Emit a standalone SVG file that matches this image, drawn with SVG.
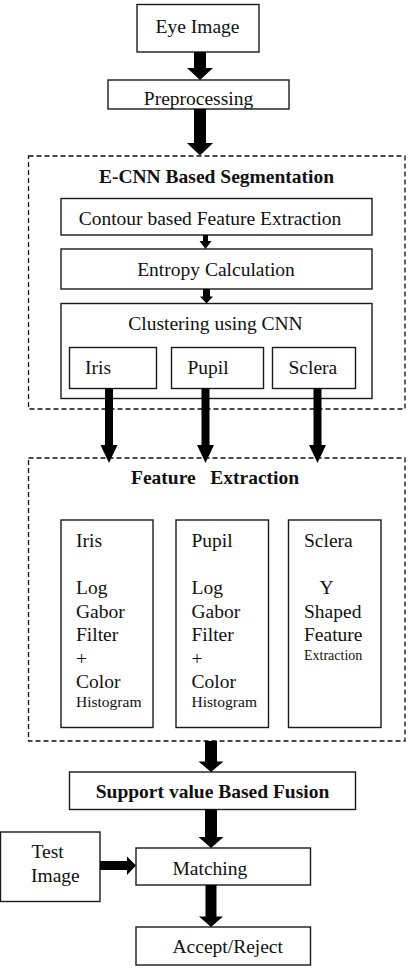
<svg xmlns="http://www.w3.org/2000/svg" width="409" height="974" viewBox="0 0 409 974" font-family="'Liberation Serif', 'DejaVu Serif', serif">
  <style>
    .box { fill: #ffffff; stroke: #1a1a1a; stroke-width: 1.4; }
    .dash { fill: none; stroke: #111111; stroke-width: 1.3; stroke-dasharray: 5 3; }
    text { font-family: 'Liberation Serif', 'DejaVu Serif', serif; fill: #111111; }
    .t { font-size: 19.5px; }
    .tb { font-size: 19.5px; font-weight: bold; }
    .s { font-size: 15.5px; }
    .xs { font-size: 14px; }
    .c { text-anchor: middle; }
    .arr { fill: #000000; }
  </style>
  <rect width="409" height="974" fill="#ffffff"/>

  <!-- top of pipeline -->
  <g id="eye-image">
    <rect class="box" x="137" y="4.5" width="122" height="47.5"/>
    <text class="t c" x="197.5" y="33">Eye Image</text>
  </g>
  <g id="preprocessing">
    <rect class="box" x="108" y="80" width="181" height="29"/>
    <text class="t c" x="198.5" y="104.5">Preprocessing</text>
  </g>

  <!-- segmentation stage -->
  <g id="ecnn-segmentation">
    <rect class="dash" x="28.5" y="156" width="376.5" height="253"/>
    <text class="tb c" x="216.5" y="183">E-CNN Based Segmentation</text>
  </g>
  <g id="contour-extraction">
    <rect class="box" x="61" y="198.5" width="311" height="36.5"/>
    <text class="t c" x="210" y="225">Contour based Feature Extraction</text>
  </g>
  <g id="entropy">
    <rect class="box" x="61" y="249" width="311" height="40"/>
    <text class="t c" x="216" y="276">Entropy Calculation</text>
  </g>
  <g id="clustering">
    <rect class="box" x="61" y="303.5" width="311" height="95"/>
    <text class="t c" x="215.5" y="330">Clustering using CNN</text>
  </g>
  <g id="seg-iris">
    <rect class="box" x="69.5" y="347.5" width="87" height="41"/>
    <text class="t" x="85" y="374">Iris</text>
  </g>
  <g id="seg-pupil">
    <rect class="box" x="171.5" y="347.5" width="92" height="41"/>
    <text class="t" x="187.5" y="374">Pupil</text>
  </g>
  <g id="seg-sclera">
    <rect class="box" x="272.5" y="347.5" width="83" height="41"/>
    <text class="t" x="288.5" y="374">Sclera</text>
  </g>

  <!-- feature extraction stage -->
  <g id="feature-extraction">
    <rect class="dash" x="28.5" y="458" width="376.5" height="283"/>
    <text class="tb" x="131" y="483.5" xml:space="preserve">Feature   Extraction</text>
  </g>
  <g id="feat-iris">
    <rect class="box" x="61" y="520" width="92" height="207.5"/>
    <text class="t" x="76" y="546.5">Iris</text>
    <text class="t" x="76" y="594">Log</text>
    <text class="t" x="76" y="617.5">Gabor</text>
    <text class="t" x="76" y="641">Filter</text>
    <text class="t" x="76" y="665">+</text>
    <text class="t" x="76" y="688">Color</text>
    <text class="s" x="76" y="707">Histogram</text>
  </g>
  <g id="feat-pupil">
    <rect class="box" x="176" y="520" width="92.5" height="207.5"/>
    <text class="t" x="191.5" y="546.5">Pupil</text>
    <text class="t" x="191.5" y="594">Log</text>
    <text class="t" x="191.5" y="617.5">Gabor</text>
    <text class="t" x="191.5" y="641">Filter</text>
    <text class="t" x="191.5" y="665">+</text>
    <text class="t" x="191.5" y="688">Color</text>
    <text class="s" x="191.5" y="707">Histogram</text>
  </g>
  <g id="feat-sclera">
    <rect class="box" x="288.5" y="520" width="92.5" height="207.5"/>
    <text class="t" x="304" y="546.5">Sclera</text>
    <text class="t" x="319.5" y="594">Y</text>
    <text class="t" x="304" y="617.5">Shaped</text>
    <text class="t" x="304" y="641">Feature</text>
    <text class="xs" x="304" y="660">Extraction</text>
  </g>

  <!-- fusion and matching -->
  <g id="fusion">
    <rect class="box" x="69.5" y="772" width="286" height="37.5"/>
    <text class="tb c" x="212.5" y="798">Support value Based Fusion</text>
  </g>
  <g id="test-image">
    <rect class="box" x="0.5" y="832" width="99.5" height="69.5"/>
    <text class="t" x="31.5" y="857.5">Test</text>
    <text class="t" x="31" y="881.5">Image</text>
  </g>
  <g id="matching">
    <rect class="box" x="136" y="848" width="174.5" height="37"/>
    <text class="t" x="172.5" y="875">Matching</text>
  </g>
  <g id="accept-reject">
    <rect class="box" x="136" y="927" width="174.5" height="38"/>
    <text class="t" x="172.5" y="953">Accept/Reject</text>
  </g>

  <!-- block arrows -->
  <g id="connectors" class="arr">
    <polygon points="194,52 206,52 206,68 213,68 200,80 187,68 194,68"/>
    <polygon points="194,109 206,109 206,143 213,143 200,155.5 187,143 194,143"/>
    <polygon points="203,235 208,235 208,241 211.5,241 205.5,249 199.5,241 203,241"/>
    <polygon points="203,289 210,289 210,296.5 213,296.5 206.5,303.5 200,296.5 203,296.5"/>
    <polygon points="105,388.5 113,388.5 113,445 117.5,445 109,463 100.5,445 105,445"/>
    <polygon points="201.5,388.5 209.5,388.5 209.5,445 214,445 205.5,463 197,445 201.5,445"/>
    <polygon points="313.5,388.5 321.5,388.5 321.5,445 326,445 317.5,463 309,445 313.5,445"/>
    <polygon points="205,741 217,741 217,761.5 223.5,761.5 211,772 198.5,761.5 205,761.5"/>
    <polygon points="205,809.5 217,809.5 217,837 223.5,837 211,848 198.5,837 205,837"/>
    <polygon points="100,861 127,861 127,856.5 136,865.5 127,875 127,870 100,870"/>
    <polygon points="205.5,885 216.5,885 216.5,916.5 223,916.5 211,927 199,916.5 205.5,916.5"/>
  </g>
</svg>
